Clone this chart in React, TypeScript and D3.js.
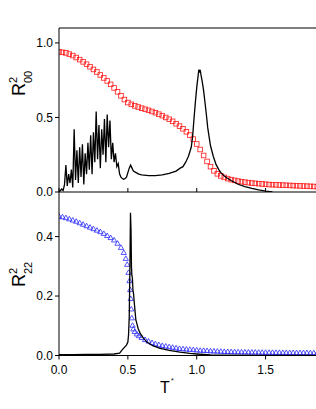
import React from "react";
import * as d3 from "d3";

// R^2_00 (red squares), top panel
const redT = [
  0, 0.025, 0.05, 0.075, 0.1, 0.125, 0.15, 0.175, 0.2, 0.225, 0.25, 0.275, 0.3, 0.325, 0.35, 0.375,
  0.4, 0.425, 0.45, 0.475, 0.5, 0.525, 0.55, 0.575, 0.6, 0.625, 0.65, 0.675, 0.7, 0.725, 0.75, 0.775,
  0.8, 0.825, 0.85, 0.875, 0.9, 0.925, 0.95, 0.975, 1.0, 1.025, 1.05, 1.075, 1.1, 1.125, 1.15, 1.175,
  1.2, 1.225, 1.25, 1.275, 1.3, 1.325, 1.35, 1.375, 1.4, 1.425, 1.45, 1.475, 1.5, 1.525, 1.55, 1.575,
  1.6, 1.625, 1.65, 1.675, 1.7, 1.725, 1.75, 1.775, 1.8, 1.825, 1.85, 1.875,
];
const redV = [
  0.94, 0.937, 0.933, 0.925, 0.915, 0.902, 0.888, 0.873, 0.857, 0.84, 0.822, 0.805, 0.785, 0.765, 0.745, 0.722,
  0.698, 0.672, 0.645, 0.62, 0.6, 0.588, 0.578, 0.57, 0.562, 0.555, 0.548, 0.54, 0.532, 0.522, 0.512, 0.5,
  0.488, 0.474, 0.458, 0.442, 0.424, 0.404, 0.382, 0.355, 0.322, 0.285, 0.245, 0.205, 0.17, 0.142, 0.122, 0.108,
  0.098, 0.09, 0.083, 0.078, 0.073, 0.069, 0.066, 0.063, 0.06, 0.058, 0.056, 0.054, 0.052, 0.05, 0.049, 0.048,
  0.047, 0.046, 0.045, 0.044, 0.043, 0.042, 0.041, 0.04, 0.039, 0.038, 0.037, 0.036,
];

// fluctuation curve, top panel (black line)
const blackTopT = [
  0, 0.01, 0.02, 0.03, 0.04, 0.05, 0.06, 0.07, 0.08, 0.09, 0.1, 0.11, 0.12, 0.13, 0.14, 0.15,
  0.16, 0.17, 0.18, 0.19, 0.2, 0.21, 0.22, 0.23, 0.24, 0.25, 0.26, 0.27, 0.28, 0.29, 0.3, 0.31,
  0.32, 0.33, 0.34, 0.35, 0.36, 0.37, 0.38, 0.39, 0.4, 0.41, 0.42, 0.43, 0.44, 0.45, 0.46, 0.47,
  0.48, 0.49, 0.5, 0.51, 0.52, 0.53, 0.54, 0.56, 0.58, 0.6, 0.65, 0.7, 0.75, 0.8, 0.85, 0.88,
  0.9, 0.92, 0.94, 0.95, 0.96, 0.97, 0.98, 0.99, 1.0, 1.01, 1.015, 1.02, 1.025, 1.03, 1.04, 1.05,
  1.06, 1.07, 1.08, 1.09, 1.1, 1.12, 1.14, 1.16, 1.18, 1.2, 1.22, 1.25, 1.3, 1.35, 1.4, 1.45,
  1.5, 1.55,
];
const blackTopV = [
  0.0, 0.01, 0.02, 0.01, 0.05, 0.18, 0.04, 0.12, 0.06, 0.15, 0.03, 0.42, 0.08, 0.28, 0.06, 0.3,
  0.1, 0.32, 0.05, 0.26, 0.12, 0.33, 0.15, 0.38, 0.12, 0.4, 0.2, 0.54, 0.22, 0.45, 0.16, 0.42,
  0.25, 0.49, 0.2, 0.52, 0.3, 0.48, 0.22, 0.33, 0.2, 0.26, 0.17, 0.19, 0.12, 0.1, 0.09, 0.085,
  0.09, 0.1, 0.13, 0.16, 0.18, 0.16, 0.14, 0.13, 0.12, 0.115, 0.11, 0.11, 0.115, 0.125, 0.14, 0.16,
  0.17, 0.2, 0.24, 0.27, 0.3, 0.37, 0.49, 0.6, 0.7, 0.78, 0.82, 0.8, 0.82, 0.79, 0.74, 0.68,
  0.6, 0.52, 0.43, 0.37, 0.31, 0.24, 0.185, 0.15, 0.125, 0.108, 0.094, 0.077, 0.052, 0.036, 0.024, 0.014,
  0.006, 0.001,
];

// R^2_22 (blue triangles), bottom panel
const blueT = [
  0, 0.025, 0.05, 0.075, 0.1, 0.125, 0.15, 0.175, 0.2, 0.225, 0.25, 0.275, 0.3, 0.325, 0.35, 0.375,
  0.4, 0.425, 0.45, 0.47, 0.485, 0.495, 0.505, 0.512, 0.517, 0.521, 0.525, 0.529, 0.534, 0.54, 0.55, 0.565,
  0.58, 0.6, 0.625, 0.65, 0.675, 0.7, 0.725, 0.75, 0.775, 0.8, 0.825, 0.85, 0.875, 0.9, 0.925, 0.95,
  0.975, 1.0, 1.025, 1.05, 1.075, 1.1, 1.125, 1.15, 1.175, 1.2, 1.225, 1.25, 1.275, 1.3, 1.325, 1.35,
  1.375, 1.4, 1.425, 1.45, 1.475, 1.5, 1.525, 1.55, 1.575, 1.6, 1.625, 1.65, 1.675, 1.7, 1.725, 1.75,
  1.775, 1.8, 1.825, 1.85, 1.875,
];
const blueV = [
  0.467, 0.465, 0.462, 0.458, 0.454, 0.45, 0.445, 0.44, 0.435, 0.43, 0.425, 0.42, 0.415, 0.409, 0.402, 0.395,
  0.387, 0.376, 0.362, 0.345, 0.325, 0.305, 0.278, 0.25, 0.22, 0.19, 0.155, 0.125, 0.1, 0.088, 0.079, 0.071,
  0.065, 0.059, 0.052, 0.047, 0.042, 0.038, 0.035, 0.032, 0.03, 0.028, 0.026, 0.024, 0.022, 0.021, 0.02, 0.019,
  0.018, 0.017, 0.016, 0.0155, 0.015, 0.014, 0.0135, 0.013, 0.0125, 0.012, 0.0117, 0.0114, 0.0111, 0.0108, 0.0105, 0.0102,
  0.01, 0.0098, 0.0096, 0.0094, 0.0092, 0.009, 0.0089, 0.0088, 0.0087, 0.0086, 0.0085, 0.0084, 0.0083, 0.0082, 0.0081, 0.008,
  0.0079, 0.0078, 0.0077, 0.0076, 0.0075,
];

// fluctuation curve, bottom panel (black line)
const blackBotT = [
  0, 0.1, 0.2, 0.3, 0.4, 0.44, 0.46, 0.48, 0.49, 0.5, 0.505, 0.51, 0.515, 0.519, 0.523, 0.526,
  0.529, 0.533, 0.537, 0.541, 0.546, 0.552, 0.558, 0.564, 0.575, 0.589, 0.61, 0.636, 0.68, 0.734, 0.8, 0.879,
  0.95, 1.0, 1.1, 1.2, 1.5, 1.875,
];
const blackBotV = [
  0.003, 0.003, 0.004, 0.004, 0.005, 0.008, 0.02, 0.03, 0.035, 0.045, 0.07, 0.13, 0.3, 0.48, 0.42, 0.3,
  0.27, 0.26, 0.22, 0.21, 0.18, 0.15, 0.12, 0.11, 0.09, 0.075, 0.06, 0.046, 0.033, 0.024, 0.017, 0.011,
  0.007, 0.005, 0.002, 0.001, 0.0, 0.0,
];

const xTicks = [0, 0.5, 1.0, 1.5];
const topYTicks = [0, 0.5, 1.0];
const botYTicks = [0, 0.2, 0.4];

const W = 316;
const H = 409;
const left = 59;
const right = 316;
const topY0 = 28;
const midY = 192;
const botY1 = 355.5;
const font = "'Liberation Sans', Arial, sans-serif";

const App = () => {
  const x = d3.scaleLinear().domain([0, 1.866]).range([left, right]);
  const yTop = d3.scaleLinear().domain([0, 1.1]).range([midY, topY0]);
  const yBot = d3.scaleLinear().domain([0, 0.55]).range([botY1, midY]);
  const fmt = d3.format(".1f");

  const lineTop = d3
    .line<number>()
    .x((d, i) => x(blackTopT[i]))
    .y((d) => yTop(d));
  const lineBot = d3
    .line<number>()
    .x((d, i) => x(blackBotT[i]))
    .y((d) => yBot(d));
  const tri = d3.symbol().type(d3.symbolTriangle).size(12)();

  return (
    <div style={{ position: "absolute", left: 0, top: 0 }}>
      <svg width={W} height={H} style={{ display: "block", background: "#fff" }}>
        <defs>
          <clipPath id="clipTop">
            <rect x={left} y={topY0} width={right - left} height={midY - topY0} />
          </clipPath>
          <clipPath id="clipBot">
            <rect x={left} y={midY} width={right - left} height={botY1 - midY} />
          </clipPath>
        </defs>

        {/* top panel data */}
        <g clipPath="url(#clipTop)">
          {redV.map((v, i) => (
            <rect
              key={i}
              x={x(redT[i]) - 2.3}
              y={yTop(v) - 2.3}
              width={4.6}
              height={4.6}
              fill="none"
              stroke="#ff1a1a"
              strokeWidth={0.8}
            />
          ))}
          <path d={lineTop(blackTopV) || ""} fill="none" stroke="#000" strokeWidth={1.3} />
        </g>

        {/* bottom panel data */}
        <g clipPath="url(#clipBot)">
          {blueV.map((v, i) => (
            <path
              key={i}
              d={tri || ""}
              transform={`translate(${x(blueT[i])},${yBot(v)})`}
              fill="none"
              stroke="#2a2aff"
              strokeWidth={0.8}
            />
          ))}
          <path d={lineBot(blackBotV) || ""} fill="none" stroke="#000" strokeWidth={1.3} />
        </g>

        {/* frames */}
        <g stroke="#000" strokeWidth={1} fill="none">
          <line x1={left} x2={right} y1={topY0} y2={topY0} />
          <line x1={left} x2={right} y1={midY} y2={midY} />
          <line x1={left} x2={right} y1={botY1} y2={botY1} />
          <line x1={left} x2={left} y1={topY0} y2={botY1} />
          {xTicks.map((t) => (
            <line key={"m" + t} x1={x(t)} x2={x(t)} y1={midY} y2={midY - 4} />
          ))}
          {xTicks.map((t) => (
            <line key={"b" + t} x1={x(t)} x2={x(t)} y1={botY1} y2={botY1 + 4} />
          ))}
          {topYTicks.map((t) => (
            <line key={"t" + t} x1={left - 4} x2={left} y1={yTop(t)} y2={yTop(t)} />
          ))}
          {botYTicks.map((t) => (
            <line key={"l" + t} x1={left - 4} x2={left} y1={yBot(t)} y2={yBot(t)} />
          ))}
        </g>

        {/* tick labels */}
        <g fontFamily={font} fontSize={12} fill="#000">
          {topYTicks.map((t) => (
            <text key={"tt" + t} x={left - 6} y={yTop(t)} dy="0.35em" textAnchor="end">
              {fmt(t)}
            </text>
          ))}
          {botYTicks.map((t) => (
            <text key={"bt" + t} x={left - 6} y={yBot(t)} dy="0.35em" textAnchor="end">
              {fmt(t)}
            </text>
          ))}
          {xTicks.map((t) => (
            <text key={"xt" + t} x={x(t)} y={373.5} textAnchor="middle">
              {fmt(t)}
            </text>
          ))}
        </g>

        {/* axis titles */}
        <g fontFamily={font} fill="#000">
          <g transform="translate(25,96) rotate(-90)">
            <text x={0} y={0} fontSize={18}>R</text>
            <text x={13} y={-8} fontSize={11}>2</text>
            <text x={13} y={7} fontSize={11}>00</text>
          </g>
          <g transform="translate(25,287) rotate(-90)">
            <text x={0} y={0} fontSize={18}>R</text>
            <text x={13} y={-8} fontSize={11}>2</text>
            <text x={13} y={7} fontSize={11}>22</text>
          </g>
          <text x={160} y={393} fontSize={16}>T</text>
          <text x={171} y={383} fontSize={7}>*</text>
        </g>
      </svg>
    </div>
  );
};

export default App;
